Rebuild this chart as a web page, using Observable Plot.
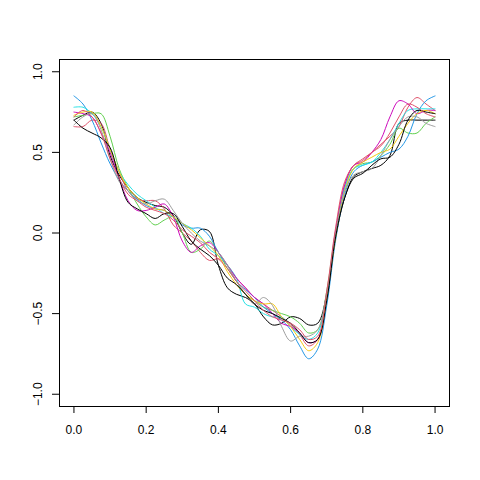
<!DOCTYPE html>
<html>
<head>
<meta charset="utf-8">
<script src="https://cdn.jsdelivr.net/npm/d3@7"></script>
<script src="https://cdn.jsdelivr.net/npm/@observablehq/plot@0.6"></script>
<style>
  html, body { margin: 0; padding: 0; background: #fff; }
  #chart { width: 480px; height: 480px; }
</style>
</head>
<body>
<div id="chart"></div>
<script>
const xGrid = [0, 0.025, 0.05, 0.075, 0.1, 0.125, 0.15, 0.175, 0.2, 0.225, 0.25, 0.275, 0.3, 0.325, 0.35, 0.375, 0.4, 0.425, 0.45, 0.475, 0.5, 0.525, 0.55, 0.575, 0.6, 0.625, 0.65, 0.675, 0.7, 0.725, 0.75, 0.775, 0.8, 0.825, 0.85, 0.875, 0.9, 0.925, 0.95, 0.975, 1];

const series1  = [0.70, 0.73, 0.75, 0.68, 0.48, 0.36, 0.28, 0.22, 0.19, 0.17, 0.16, 0.11, 0.00, -0.07, 0.02, 0.01, -0.20, -0.34, -0.38, -0.40, -0.44, -0.52, -0.57, -0.56, -0.52, -0.53, -0.57, -0.56, -0.38, -0.02, 0.22, 0.35, 0.38, 0.40, 0.42, 0.48, 0.68, 0.70, 0.70, 0.70, 0.70];
const series2  = [0.66, 0.66, 0.70, 0.68, 0.52, 0.38, 0.26, 0.21, 0.20, 0.20, 0.15, 0.05, 0.00, -0.05, -0.12, -0.17, -0.16, -0.20, -0.28, -0.34, -0.40, -0.44, -0.48, -0.52, -0.57, -0.63, -0.70, -0.66, -0.40, 0.00, 0.30, 0.42, 0.45, 0.50, 0.55, 0.60, 0.66, 0.78, 0.84, 0.80, 0.76];
const series3  = [0.72, 0.73, 0.74, 0.74, 0.60, 0.40, 0.28, 0.18, 0.10, 0.05, 0.08, 0.10, 0.00, -0.12, -0.10, -0.05, -0.12, -0.22, -0.30, -0.38, -0.42, -0.46, -0.48, -0.50, -0.52, -0.56, -0.62, -0.60, -0.36, 0.02, 0.28, 0.40, 0.43, 0.44, 0.48, 0.55, 0.65, 0.62, 0.62, 0.68, 0.72];
const series4  = [0.85, 0.80, 0.70, 0.56, 0.43, 0.33, 0.26, 0.21, 0.17, 0.15, 0.14, 0.10, 0.05, 0.03, 0.03, -0.02, -0.12, -0.20, -0.30, -0.35, -0.40, -0.46, -0.50, -0.54, -0.60, -0.70, -0.78, -0.72, -0.45, -0.04, 0.24, 0.38, 0.42, 0.44, 0.47, 0.50, 0.52, 0.60, 0.74, 0.82, 0.85];
const series5  = [0.78, 0.78, 0.74, 0.66, 0.52, 0.38, 0.30, 0.24, 0.20, 0.16, 0.12, 0.10, 0.06, 0.03, -0.02, -0.10, -0.14, -0.20, -0.28, -0.44, -0.46, -0.50, -0.52, -0.52, -0.58, -0.63, -0.66, -0.62, -0.38, 0.00, 0.28, 0.40, 0.42, 0.44, 0.50, 0.58, 0.68, 0.76, 0.77, 0.77, 0.77];
const series6  = [0.75, 0.74, 0.72, 0.62, 0.50, 0.34, 0.20, 0.14, 0.14, 0.16, 0.18, 0.10, -0.05, -0.12, -0.08, -0.06, -0.12, -0.20, -0.28, -0.34, -0.40, -0.44, -0.50, -0.56, -0.58, -0.62, -0.68, -0.66, -0.40, 0.02, 0.30, 0.42, 0.44, 0.50, 0.58, 0.72, 0.82, 0.80, 0.74, 0.76, 0.76];
const series7  = [0.73, 0.75, 0.75, 0.66, 0.52, 0.38, 0.28, 0.22, 0.18, 0.15, 0.14, 0.10, 0.06, 0.02, -0.03, -0.08, -0.14, -0.24, -0.32, -0.38, -0.42, -0.44, -0.44, -0.52, -0.58, -0.66, -0.73, -0.68, -0.40, -0.02, 0.26, 0.40, 0.44, 0.47, 0.50, 0.52, 0.60, 0.68, 0.74, 0.76, 0.74];
const series8  = [0.67, 0.72, 0.74, 0.64, 0.46, 0.32, 0.26, 0.20, 0.18, 0.20, 0.21, 0.14, 0.06, 0.00, -0.05, -0.08, -0.12, -0.20, -0.30, -0.38, -0.44, -0.40, -0.45, -0.58, -0.67, -0.64, -0.64, -0.60, -0.38, 0.00, 0.26, 0.36, 0.38, 0.40, 0.48, 0.58, 0.66, 0.72, 0.72, 0.68, 0.66];
const series9  = [0.70, 0.65, 0.62, 0.59, 0.53, 0.34, 0.19, 0.15, 0.12, 0.09, 0.12, 0.12, 0.04, -0.05, -0.10, -0.14, -0.20, -0.28, -0.32, -0.38, -0.44, -0.48, -0.50, -0.53, -0.56, -0.62, -0.68, -0.66, -0.42, -0.02, 0.22, 0.34, 0.37, 0.42, 0.46, 0.47, 0.55, 0.70, 0.76, 0.75, 0.74];
const series10 = [0.72, 0.76, 0.72, 0.62, 0.46, 0.34, 0.24, 0.20, 0.16, 0.14, 0.12, 0.08, 0.02, -0.02, -0.06, -0.12, -0.16, -0.22, -0.30, -0.36, -0.42, -0.48, -0.52, -0.54, -0.56, -0.60, -0.66, -0.64, -0.36, 0.04, 0.32, 0.42, 0.46, 0.50, 0.54, 0.62, 0.72, 0.80, 0.78, 0.74, 0.72];

const seriesNames = ["s1","s2","s3","s4","s5","s6","s7","s8","s9","s10"];
const seriesColors = ["#000000","#DF536B","#61D04F","#2297E6","#28E2E5","#CD0BBC","#F5C710","#9E9E9E","#000000","#DF536B"];
const xTicks = [0, 0.2, 0.4, 0.6, 0.8, 1.0];
const yTicks = [-1.0, -0.5, 0.0, 0.5, 1.0];

const allSeries = [series1, series2, series3, series4, series5, series6, series7, series8, series9, series10];
const rows = [];
allSeries.forEach((s, i) => s.forEach((v, j) => rows.push({x: xGrid[j], y: v, k: seriesNames[i]})));

const fmt = d3.format(".1f");
const chart = Plot.plot({
  width: 480,
  height: 480,
  marginLeft: 59,
  marginRight: 31,
  marginTop: 59,
  marginBottom: 74,
  style: {fontFamily: "Liberation Sans, Arial, sans-serif", fontSize: "12px", background: "#fff", color: "#000"},
  x: {domain: [-0.04, 1.04]},
  y: {domain: [-1.076, 1.076]},
  color: {domain: seriesNames, range: seriesColors},
  marks: [
    Plot.line(rows, {x: "x", y: "y", z: "k", stroke: "k", strokeWidth: 1, curve: "catmull-rom"}),
    Plot.frame({stroke: "#000", strokeWidth: 1}),
    Plot.axisX({ticks: xTicks, tickSize: 7, tickPadding: 12, tickFormat: fmt, label: null, fontSize: 12}),
    Plot.axisY({ticks: yTicks, tickSize: 7, tickFormat: () => "", label: null}),
    Plot.text(yTicks, {y: d => d, frameAnchor: "left", dx: -21, rotate: -90, text: d => fmt(d), textAnchor: "middle", lineAnchor: "middle", fontSize: 12, fill: "#000"})
  ]
});
document.getElementById("chart").appendChild(chart);
</script>
</body>
</html>
